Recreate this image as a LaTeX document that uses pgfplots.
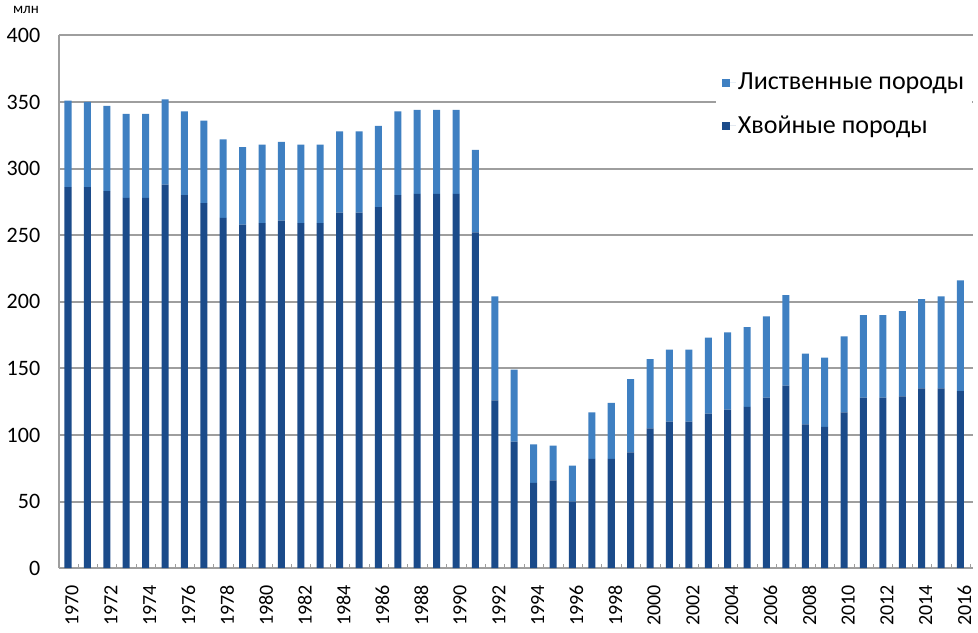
\documentclass[border=0pt]{standalone}
\usepackage{pgfplots}
\pgfplotsset{compat=1.18}
\usepackage{pgfplotstable}
\usepackage{fontspec}
\setmainfont{Carlito}
\definecolor{darkb}{HTML}{1B4B8A}
\definecolor{lightb}{HTML}{3F80C2}
\definecolor{gridc}{HTML}{9E9E9E}
\pgfplotstableread{
x year con dec
0 1970 286 65
1 1971 286 64
2 1972 283 64
3 1973 278 63
4 1974 278 63
5 1975 288 64
6 1976 280 63
7 1977 274 62
8 1978 263 59
9 1979 258 58
10 1980 259 59
11 1981 261 59
12 1982 259 59
13 1983 259 59
14 1984 267 61
15 1985 267 61
16 1986 271 61
17 1987 280 63
18 1988 281 63
19 1989 281 63
20 1990 281 63
21 1991 252 62
22 1992 126 78
23 1993 95 54
24 1994 64 29
25 1995 66 26
26 1996 50 27
27 1997 82 35
28 1998 82 42
29 1999 87 55
30 2000 105 52
31 2001 110 54
32 2002 110 54
33 2003 116 57
34 2004 119 58
35 2005 121 60
36 2006 128 61
37 2007 137 68
38 2008 108 53
39 2009 106 52
40 2010 117 57
41 2011 128 62
42 2012 128 62
43 2013 129 64
44 2014 135 67
45 2015 135 69
46 2016 133 83
}\datatable
\begin{document}
\fontsize{20}{24}\selectfont
\begin{tikzpicture}
\begin{axis}[
  scale only axis,
  width=913pt, height=532pt,
  ybar stacked, bar width=7pt,
  xmin=-0.46, xmax=46.67,
  ymin=0, ymax=400,
  ytick={0,50,...,400},
  xtick={0,2,...,46},
  xticklabels={1970,1972,1974,1976,1978,1980,1982,1984,1986,1988,1990,1992,1994,1996,1998,2000,2002,2004,2006,2008,2010,2012,2014,2016},
  minor xtick={-0.5,0.5,...,46.5},
  major x tick style={draw=none},
  minor tick length=4pt,
  minor x tick style={gridc},
  xtick pos=bottom, ytick pos=left,
  major tick length=0pt,
  x tick label style={rotate=90, anchor=east, font=\fontsize{20}{24}\selectfont, xshift=-10pt, yshift=-4pt},
  y tick label style={font=\fontsize{22}{26}\selectfont, xshift=-12pt},
  /pgf/number format/assume math mode=true,
  ymajorgrids, grid style={gridc, line width=2pt},
  axis x line*=bottom, axis y line*=left,
  axis line style={gridc, line width=1.2pt},
  x axis line style={draw=none},
  reverse legend,
  legend cell align=left,
  legend style={at={(rel axis cs:0.718,0.945)}, anchor=north west, draw=none, fill=white,
    font=\fontsize{26}{30}\selectfont, row sep=19pt, inner xsep=6pt, inner ysep=6pt},
  legend image code/.code={\path (0pt,0pt) -- (14pt,0pt); \fill[#1] (0pt,-4pt) rectangle (8pt,4pt);},
  clip=false,
]
\addplot[fill=darkb, draw=none] table[x=x, y=con]{\datatable};
\addlegendentry{Хвойные породы}
\addplot[fill=lightb, draw=none] table[x=x, y=dec]{\datatable};
\addlegendentry{Лиственные породы}
\node[font=\fontsize{15}{18}\selectfont, anchor=center] at (rel axis cs:0,1) [xshift=-33pt, yshift=25pt] {млн};
\end{axis}
\end{tikzpicture}
\end{document}
